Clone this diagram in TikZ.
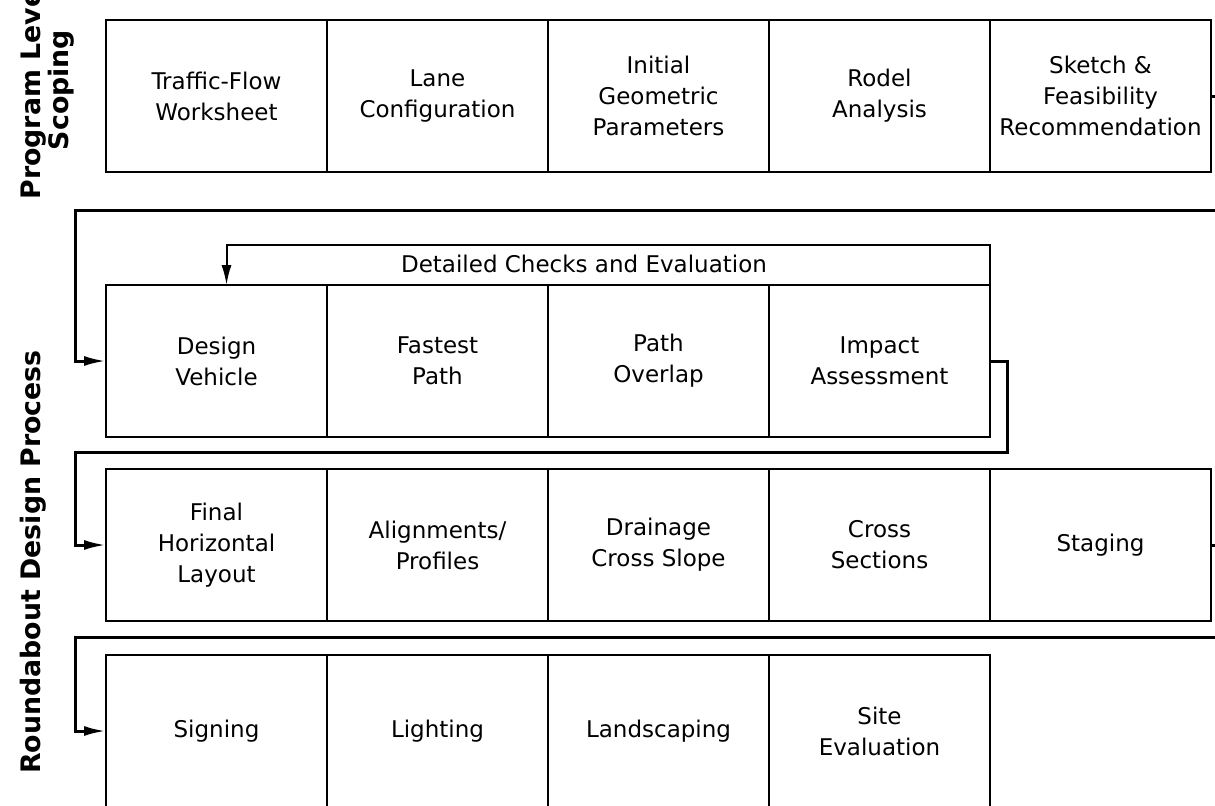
\documentclass[tikz,border=0pt]{standalone}
\usepackage{fontspec}
\setmainfont{DejaVu Sans}
\usepackage{tikz}
\usetikzlibrary{arrows.meta,positioning}

\begin{document}
\begin{tikzpicture}[
  font=\fontsize{11.5pt}{15.5pt}\selectfont,
  node distance=0pt,
  box/.style={draw, line width=1pt, align=center, inner sep=2pt, outer sep=0pt, minimum width=110.5pt, minimum height=76pt},
  flow/.style={-{Latex[length=11pt,width=5pt]}, line width=1.5pt},
  chk/.style={-{Latex[length=10pt,width=5pt]}, line width=1pt},
  side/.style={font=\fontsize{13.4pt}{13pt}\bfseries\selectfont, rotate=90, align=center}
]
  \useasboundingbox (0,0) rectangle (607.5pt,-402.5pt);
  \clip (0,0) rectangle (607.5pt,-402.5pt);

  % program level scoping (top row)
  \node[box, anchor=north west] (tfw) at (53pt,-10pt) {Traffic-Flow\\Worksheet};
  \node[box, right=of tfw] (lane) {Lane\\Configuration};
  \node[box, right=of lane] (geom) {Initial\\Geometric\\Parameters};
  \node[box, right=of geom] (rodel) {Rodel\\Analysis};
  \node[box, right=of rodel] (sketch) {Sketch \&\\Feasibility\\Recommendation};

  % design process, first row
  \node[box, below=56.5pt of tfw] (dv) {Design\\Vehicle};
  \node[box, right=of dv] (fp) {Fastest\\Path};
  \node[box, right=of fp] (po) {Path\\Overlap};
  \node[box, right=of po] (ia) {Impact\\Assessment};

  % second row
  \node[box, below=16pt of dv] (fhl) {Final\\Horizontal\\Layout};
  \node[box, right=of fhl] (align) {Alignments/\\Profiles};
  \node[box, right=of align] (drain) {Drainage\\Cross Slope};
  \node[box, right=of drain] (xsec) {Cross\\Sections};
  \node[box, right=of xsec] (stage) {Staging};

  % third row
  \node[box, below=17pt of fhl] (sign) {Signing};
  \node[box, right=of sign] (light) {Lighting};
  \node[box, right=of light] (land) {Landscaping};
  \node[box, right=of land] (site) {Site\\Evaluation};

  % side labels
  \node[side] (pls) at ([xshift=-29.5pt,yshift=3pt]tfw.west) {Program Level\\Scoping};
  \node[side] (rdp) at (16.5pt,-281pt) {Roundabout Design Process};

  % connectors between rows
  \draw[flow] (sketch.east) -- ++(8pt,0) |- ([xshift=-15.5pt,yshift=-19pt]tfw.south west) |- (dv.west);
  \draw[flow] (ia.east) -- ++(8.5pt,0) |- ([xshift=-15.5pt,yshift=-7.5pt]dv.south west) |- (fhl.west);
  \draw[flow] (stage.east) -- ++(8pt,0) |- ([xshift=-15.5pt,yshift=-8pt]fhl.south west) |- (sign.west);

  % detailed checks loop
  \draw[chk] (ia.north east) -- ++(0,20pt) -| ([xshift=5pt]dv.north);
  \node (dce) at ([xshift=18pt,yshift=10.5pt]po.north west) {Detailed Checks and Evaluation};
\end{tikzpicture}
\end{document}
